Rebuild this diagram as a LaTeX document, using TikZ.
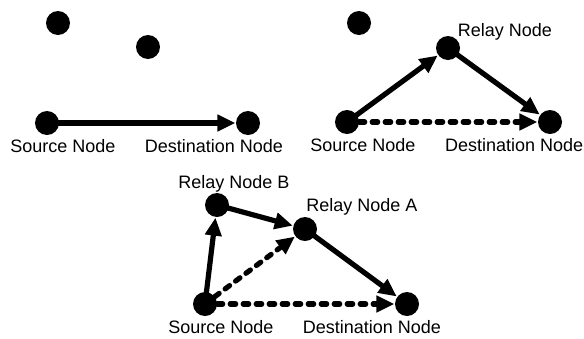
\documentclass[tikz,border=0pt]{standalone}
\usepackage{fontspec}
\setmainfont{Liberation Sans}
\usetikzlibrary{arrows.meta}
\begin{document}
\begin{tikzpicture}[x=1pt,y=-1pt,
  dot/.style={circle,fill=black,inner sep=0pt,minimum size=24pt},
  lbl/.style={inner sep=0pt,font=\fontsize{18}{21}\selectfont},
  link/.style={line width=5.2pt,-{Triangle[length=18pt,width=16pt]},shorten >=0.5pt},
  dlink/.style={link,line cap=round,dash pattern=on 5.5pt off 7.5pt}]
\useasboundingbox (0,0) rectangle (584,338);
\clip (0,0) rectangle (584,338);
% panel 1
\node[dot] (a1) at (58,23) {};
\node[dot] (a2) at (148,47) {};
\node[dot] (as) at (47,123) {};
\node[dot] (ad) at (248,123) {};
\node[lbl] (asl) at (63,146) {Source Node};
\node[lbl] (adl) at (214,146) {Destination Node};
\draw[link] (as.center) -- (ad);
% panel 2
\node[dot] (b1) at (359,23) {};
\node[dot] (br) at (448,48) {};
\node[dot] (bs) at (347,122) {};
\node[dot] (bd) at (550,122) {};
\node[lbl] (brl) at (505,32) {Relay Node};
\node[lbl] (bsl) at (363,145) {Source Node};
\node[lbl,anchor=west] (bdl) at (445,145) {Destination Node};
\draw[link] (bs.center) -- (br);
\draw[link] (br.center) -- (bd);
\draw[dlink] (bs) -- (bd);
% panel 3
\node[dot] (cb) at (217,205) {};
\node[dot] (ca) at (305,229) {};
\node[dot] (cs) at (205,304) {};
\node[dot] (cd) at (407,304) {};
\node[lbl] (cbl) at (234,184) {Relay Node B};
\node[lbl] (cal) at (362,207) {Relay Node A};
\node[lbl] (csl) at (221,327) {Source Node};
\node[lbl] (cdl) at (372,327) {Destination Node};
\draw[link] (cs.center) -- (cb);
\draw[link] (cb.center) -- (ca);
\draw[link] (ca.center) -- (cd);
\draw[dlink] (cs) -- (ca);
\draw[dlink] (cs) -- (cd);
\end{tikzpicture}
\end{document}
